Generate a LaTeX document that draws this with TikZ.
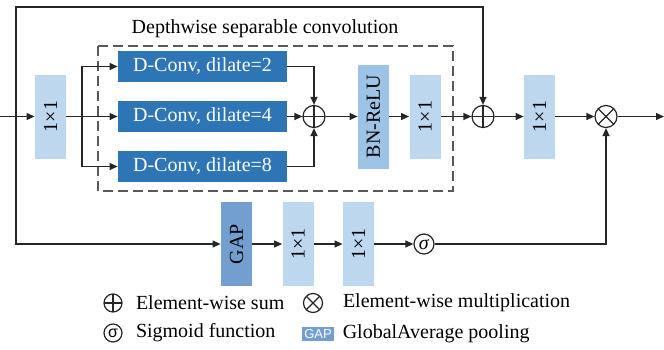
\documentclass[tikz,border=0pt]{standalone}
\usepackage{fontspec}
\setmainfont{Liberation Serif}
\setsansfont{Liberation Sans}
\usetikzlibrary{arrows.meta, positioning}

\definecolor{convblue}{HTML}{2E75B6}
\definecolor{bnblue}{HTML}{9DC3E6}
\definecolor{gapblue}{HTML}{729FCF}
\definecolor{pwblue}{HTML}{BDD7EE}
\newcommand{\vtext}[1]{\rotatebox{90}{#1}}

\begin{document}
\begin{tikzpicture}[
  x=0.5pt, y=-0.5pt,
  font=\fontsize{10}{12}\selectfont,
  convnode/.style={rectangle, fill=convblue, text=white, minimum width=84.5pt, minimum height=15.5pt, inner sep=0pt},
  pwnode/.style={rectangle, fill=pwblue, minimum width=15.5pt, minimum height=42pt, inner sep=0pt},
  bnnode/.style={rectangle, fill=bnblue, minimum width=15.5pt, minimum height=52pt, inner sep=0pt},
  gapnode/.style={rectangle, fill=gapblue, minimum width=15.5pt, minimum height=42pt, inner sep=0pt},
  opnode/.style={circle, draw=black!85, line width=0.6pt, minimum size=11pt, inner sep=0pt},
  sumnode/.style={opnode, path picture={\draw[black!85, line width=0.6pt] (path picture bounding box.north) -- (path picture bounding box.south) (path picture bounding box.west) -- (path picture bounding box.east);}},
  mulnode/.style={opnode, path picture={\draw[black!85, line width=0.6pt] (path picture bounding box.north west) -- (path picture bounding box.south east) (path picture bounding box.north east) -- (path picture bounding box.south west);}},
  signode/.style={opnode, minimum size=10pt},
  arrow/.style={-{Triangle[length=4pt, width=3.5pt]}, line width=0.6pt, draw=black!85},
  dashbox/.style={draw=black!65, dash pattern=on 5pt off 2.5pt, line width=0.6pt},
  legtext/.style={anchor=west, inner sep=0pt}
]
\useasboundingbox (0,0) rectangle (664,349);

% Main path
\node[pwnode] (in1) at (50.5,116.5) {\vtext{1×1}};
\node[convnode, right of=in1, node distance=76pt] (dc2) {D-Conv, dilate=4};
\node[convnode, above of=dc2, node distance=25pt] (dc1) {D-Conv, dilate=2};
\node[convnode, below of=dc2, node distance=25pt] (dc3) {D-Conv, dilate=8};
\node[sumnode, right of=dc2, node distance=55.75pt] (sum1) {};
\node[bnnode, right of=sum1, node distance=29.75pt] (bn) {\vtext{BN-ReLU}};
\node[pwnode, right of=bn, node distance=25.75pt] (pw1) {\vtext{1×1}};
\node[sumnode, right of=pw1, node distance=29pt] (sum2) {};
\node[pwnode, right of=sum2, node distance=28.25pt] (pw2) {\vtext{1×1}};
\node[mulnode, right of=pw2, node distance=33.25pt] (mul) {};

\coordinate (inp) at (0,116.5);
\coordinate (jn) at (16,116.5);
\coordinate (br) at (82,116.5);
\coordinate (skip) at (16,7);
\coordinate (outp) at (664,116.5);

\draw[dashbox] (98,46) rectangle (453,191);
\node[anchor=base] (dwtitle) at (265,33) {Depthwise separable convolution};

\draw[arrow] (inp) -- (in1);
\draw[arrow] (in1) -- (dc2);
\draw[arrow] (br) |- (dc1);
\draw[arrow] (br) |- (dc3);
\draw[arrow] (dc1) -| (sum1);
\draw[arrow] (dc2) -- (sum1);
\draw[arrow] (dc3) -| (sum1);
\draw[arrow] (sum1) -- (bn);
\draw[arrow] (bn) -- (pw1);
\draw[arrow] (pw1) -- (sum2);
\draw[arrow] (jn) -- (skip) -| (sum2);
\draw[arrow] (sum2) -- (pw2);
\draw[arrow] (pw2) -- (mul);
\draw[arrow] (mul) -- (outp);

% Attention path
\node[gapnode] (gap) at (236.5,244) {\vtext{GAP}};
\node[pwnode, right of=gap, node distance=30.75pt] (pw3) {\vtext{1×1}};
\node[pwnode, right of=pw3, node distance=30.25pt] (pw4) {\vtext{1×1}};
\node[signode, right of=pw4, node distance=32.75pt] (sig) {\textit{σ}};

\draw[arrow] (jn) |- (gap);
\draw[arrow] (gap) -- (pw3);
\draw[arrow] (pw3) -- (pw4);
\draw[arrow] (pw4) -- (sig);
\draw[arrow] (sig) -| (mul);

% Legend
\node[sumnode, minimum size=9pt] (lsum) at (113,303) {};
\node[legtext, right=6.5pt of lsum] (lsumtxt) {Element-wise sum};
\node[mulnode, minimum size=9.5pt] (lmul) at (313,303) {};
\node[legtext, right=9.75pt of lmul] (lmultxt) {Element-wise multiplication};
\node[signode, minimum size=9pt, font=\sffamily\fontsize{8}{9}\selectfont] (lsig) at (113,333) {σ};
\node[legtext, right=6.5pt of lsig] (lsigtxt) {Sigmoid function};
\node[gapnode, minimum width=16pt, minimum height=7pt, text=white, font=\sffamily\fontsize{6.5}{7}\selectfont] (lgap) at (318,334) {GAP};
\node[legtext, right=4pt of lgap] (lgaptxt) {GlobalAverage pooling};

\end{tikzpicture}
\end{document}
